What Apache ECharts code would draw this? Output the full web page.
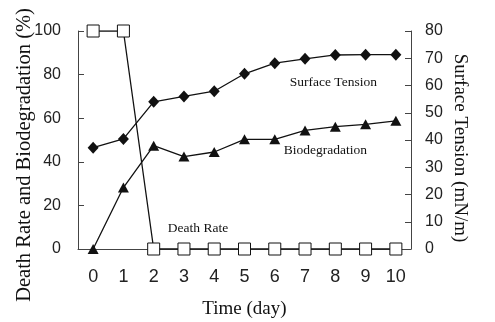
<!DOCTYPE html>
<html>
<head>
<meta charset="utf-8">
<script src="https://cdn.jsdelivr.net/npm/echarts@6/dist/echarts.min.js"></script>
<style>html,body{margin:0;padding:0;background:#fff}#c{width:495px;height:322px}</style>
</head>
<body>
<div id="c"></div>
<script>
const days = ['0','1','2','3','4','5','6','7','8','9','10'];
const deathRate = [100,100,0,0,0,0,0,0,0,0,0];
const biodegradation = [0,28.2,47.4,42.4,44.5,50.3,50.3,54.4,56.1,57.2,58.8];
const surfaceTension = [37.2,40.4,54.0,56.0,57.9,64.3,68.2,69.8,71.2,71.3,71.3];
const xTitle = 'Time (day)';
const leftTitle = 'Death Rate and Biodegradation (%)';
const rightTitle = 'Surface Tension (mN/m)';

const tickFont = "'Liberation Sans',Arial,sans-serif";
const serif = "'Liberation Serif','Times New Roman',serif";
const ink = '#111';
const axisCol = '#444';

const chart = echarts.init(document.getElementById('c'));
function note(text, coord, offset) {
  return {
    symbol: 'circle', symbolSize: 0, coord: coord,
    label: { show: true, position: 'inside', offset: offset, formatter: text,
      fontFamily: serif, fontSize: 13.5, color: ink }
  };
}
chart.setOption({
  animation: false,
  grid: { left: 78, right: 84, top: 31, bottom: 73, containLabel: false, outerBoundsMode: 'none' },
  xAxis: {
    type: 'category', data: days, boundaryGap: true,
    axisLine: { lineStyle: { color: axisCol, width: 1 } },
    axisTick: { show: false },
    axisLabel: { margin: 19, fontFamily: tickFont, fontSize: 18, color: '#222' },
    name: xTitle, nameLocation: 'middle', nameGap: 51, nameMoveOverlap: false,
    nameTextStyle: { fontFamily: serif, fontSize: 19, color: ink }
  },
  yAxis: [{
    type: 'value', min: 0, max: 100, interval: 20, position: 'left',
    axisLine: { show: true, lineStyle: { color: axisCol, width: 1 } },
    axisTick: { show: true, inside: true, length: 6, lineStyle: { color: axisCol } },
    splitLine: { show: false },
    axisLabel: { margin: 17, fontFamily: tickFont, fontSize: 16, color: '#222' },
    name: leftTitle, nameLocation: 'middle', nameRotate: 90, nameGap: 43, nameMoveOverlap: false,
    nameTextStyle: { fontFamily: serif, fontSize: 20.5, color: ink, padding: [0, 30, 0, 0] }
  }, {
    type: 'value', min: 0, max: 80, interval: 10, position: 'right',
    axisLine: { show: true, lineStyle: { color: axisCol, width: 1 } },
    axisTick: { show: true, inside: true, length: 6, lineStyle: { color: axisCol } },
    splitLine: { show: false },
    axisLabel: { margin: 14, fontFamily: tickFont, fontSize: 16, color: '#222' },
    name: rightTitle, nameLocation: 'middle', nameRotate: -90, nameGap: 39, nameMoveOverlap: false,
    nameTextStyle: { fontFamily: serif, fontSize: 19, color: ink, padding: [0, 0, 0, 16] }
  }],
  series: [{
    name: 'Surface Tension', type: 'line', yAxisIndex: 1, data: surfaceTension,
    symbol: 'diamond', symbolSize: [11, 12],
    lineStyle: { color: ink, width: 1.3 }, itemStyle: { color: ink },
    markPoint: { data: [note('Surface Tension', ['8', 61.2], [-2, 0])] }
  }, {
    name: 'Biodegradation', type: 'line', yAxisIndex: 0, data: biodegradation,
    symbol: 'triangle', symbolSize: [11, 10],
    lineStyle: { color: ink, width: 1.3 }, itemStyle: { color: ink },
    markPoint: { data: [note('Biodegradation', ['8', 45.2], [-10, 0])] }
  }, {
    name: 'Death Rate', type: 'line', yAxisIndex: 0, data: deathRate,
    symbol: 'rect', symbolSize: 12,
    lineStyle: { color: ink, width: 1.3 },
    itemStyle: { color: '#fff', borderColor: ink, borderWidth: 1 },
    markPoint: { data: [note('Death Rate', ['3', 9.2], [14, 0])] }
  }]
});
</script>
</body>
</html>
